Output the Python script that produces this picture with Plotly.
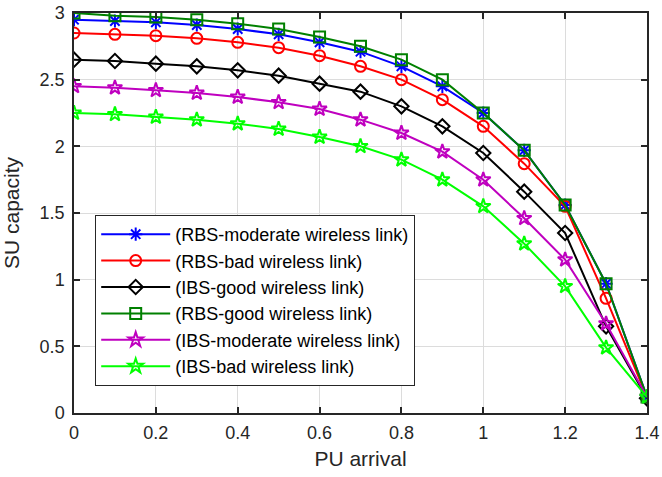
import plotly.graph_objects as go

pu_arrival = [0, 0.1, 0.2, 0.3, 0.4, 0.5, 0.6, 0.7, 0.8, 0.9, 1.0, 1.1, 1.2, 1.3, 1.4]

rbs_moderate = [2.95, 2.94, 2.93, 2.91, 2.88, 2.84, 2.78, 2.71, 2.60, 2.45, 2.25, 1.97, 1.56, 0.97, 0.12]
rbs_bad      = [2.85, 2.84, 2.83, 2.81, 2.78, 2.74, 2.68, 2.60, 2.50, 2.35, 2.15, 1.87, 1.55, 0.86, 0.12]
ibs_good     = [2.65, 2.64, 2.62, 2.60, 2.57, 2.53, 2.47, 2.41, 2.30, 2.15, 1.95, 1.66, 1.35, 0.65, 0.11]
rbs_good     = [3.00, 2.98, 2.97, 2.95, 2.92, 2.88, 2.82, 2.75, 2.65, 2.50, 2.25, 1.97, 1.56, 0.97, 0.12]
ibs_moderate = [2.45, 2.44, 2.42, 2.40, 2.37, 2.33, 2.28, 2.20, 2.10, 1.96, 1.75, 1.46, 1.15, 0.67, 0.12]
ibs_bad      = [2.25, 2.24, 2.22, 2.20, 2.17, 2.13, 2.07, 2.00, 1.90, 1.75, 1.55, 1.27, 0.95, 0.49, 0.12]

series = [
    ("(RBS-moderate wireless link)", rbs_moderate, "#0000ff", "asterisk-open"),
    ("(RBS-bad wireless link)", rbs_bad, "#ff0000", "circle-open"),
    ("(IBS-good wireless link)", ibs_good, "#000000", "diamond-open"),
    ("(RBS-good wireless link)", rbs_good, "#008000", "square-open"),
    ("(IBS-moderate wireless link)", ibs_moderate, "#bf00bf", "star-open"),
    ("(IBS-bad wireless link)", ibs_bad, "#00ff00", "star-open"),
]

fig = go.Figure()
for name, vals, color, sym in series:
    fig.add_trace(go.Scatter(
        x=pu_arrival, y=vals, name=name, mode="lines+markers",
        line=dict(color=color, width=2),
        marker=dict(symbol=sym, size=11, color=color, line=dict(color=color, width=2)),
    ))

FONT = "Liberation Sans, Arial"
axis_common = dict(
    showline=True, linecolor="#262626", linewidth=1.5, mirror="ticks",
    ticks="inside", ticklen=6, tickcolor="#262626", tickwidth=1.5,
    showgrid=True, gridcolor="#dcdcdc", gridwidth=1.2, zeroline=False,
    automargin=False,
    tickfont=dict(family=FONT, size=18, color="#262626"),
)

fig.update_xaxes(range=[0, 1.4], tickvals=[0, 0.2, 0.4, 0.6, 0.8, 1.0, 1.2, 1.4],
                 ticktext=["0", "0.2", "0.4", "0.6", "0.8", "1", "1.2", "1.4"],
                 ticklabelstandoff=3,
                 title=dict(text="PU arrival", font=dict(family=FONT, size=21, color="#262626"), standoff=9),
                 **axis_common)
fig.update_yaxes(range=[0, 3], tickvals=[0, 0.5, 1, 1.5, 2, 2.5, 3],
                 ticktext=["0", "0.5", "1", "1.5", "2", "2.5", "3"],
                 ticklabelstandoff=4,
                 title=dict(text="SU capacity", font=dict(family=FONT, size=21, color="#262626"), standoff=15),
                 **axis_common)

fig.update_layout(
    width=662, height=477,
    margin=dict(l=74, r=15, t=13, b=64),
    paper_bgcolor="white", plot_bgcolor="white",
    showlegend=True,
    legend=dict(x=0.037, y=0.495, xanchor="left", yanchor="top",
                bgcolor="white", bordercolor="#262626", borderwidth=1,
                font=dict(family=FONT, size=18, color="#000000"),
                tracegroupgap=0, itemwidth=69),
)

fig.write_html("out.html")
